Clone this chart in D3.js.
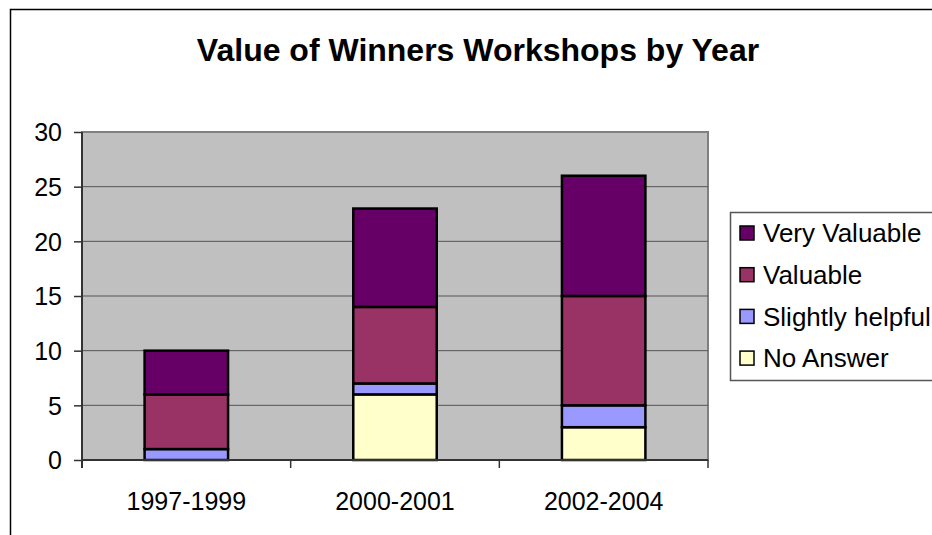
<!DOCTYPE html>
<html>
<head>
<meta charset="utf-8">
<script src="https://cdn.jsdelivr.net/npm/d3@7"></script>
<style>
  body { margin: 0; background: #fff; }
  text { font-family: "Liberation Sans", Arial, sans-serif; fill: #000; }
</style>
</head>
<body>
<div id="vis"></div>
<script>
// data
var years = ['1997-1999', '2000-2001', '2002-2004'];
var seriesNames = ['No Answer', 'Slightly helpful', 'Valuable', 'Very Valuable'];
var noAnswer = [0, 6, 3];
var slightlyHelpful = [1, 1, 2];
var valuable = [5, 7, 10];
var veryValuable = [4, 9, 11];
var yTicks = [0, 5, 10, 15, 20, 25, 30];
var colors = ['#FFFFCC', '#9999FF', '#993366', '#660066'];

var width = 932, height = 535;
var margin = { top: 132, right: 224, bottom: 75, left: 82 };
var drawWidth = width - margin.left - margin.right;
var drawHeight = height - margin.top - margin.bottom;

var svg = d3.select('#vis').append('svg')
    .attr('width', width)
    .attr('height', height);

// outer chart border
svg.append('rect')
    .attr('x', 10.5).attr('y', 9.5)
    .attr('width', 1000).attr('height', 600)
    .attr('fill', '#fff').attr('stroke', '#000').attr('stroke-width', 1.5);

svg.append('text')
    .attr('x', 478).attr('y', 61)
    .attr('text-anchor', 'middle')
    .style('font-size', '32px').style('font-weight', 'bold')
    .text('Value of Winners Workshops by Year');

var table = years.map(function(y, i) {
    return { year: y, 'No Answer': noAnswer[i], 'Slightly helpful': slightlyHelpful[i],
             'Valuable': valuable[i], 'Very Valuable': veryValuable[i] };
});
var stacked = d3.stack().keys(seriesNames)(table);

var xScale = d3.scaleBand().domain(years).range([0, drawWidth]).paddingInner(0.6).paddingOuter(0.3);
var yScale = d3.scaleLinear().domain([0, 30]).range([drawHeight, 0]);
var color = d3.scaleOrdinal().domain(seriesNames).range(colors);

var g = svg.append('g').attr('transform', `translate(${margin.left},${margin.top})`);

g.append('rect')
    .attr('width', drawWidth).attr('height', drawHeight)
    .attr('fill', '#C0C0C0').attr('stroke', '#808080').attr('stroke-width', 2);

// gridlines
g.selectAll('.grid').data(yTicks.slice(1, -1)).enter().append('line')
    .attr('x1', 0).attr('x2', drawWidth)
    .attr('y1', d => yScale(d)).attr('y2', d => yScale(d))
    .attr('stroke', '#555').attr('stroke-width', 1);

// bars
g.selectAll('.series').data(stacked).enter().append('g')
    .attr('fill', d => color(d.key))
    .selectAll('rect').data(d => d.filter(s => s[1] > s[0])).enter().append('rect')
    .attr('x', d => xScale(d.data.year))
    .attr('width', xScale.bandwidth())
    .attr('y', d => yScale(d[1]))
    .attr('height', d => yScale(d[0]) - yScale(d[1]))
    .attr('stroke', '#000').attr('stroke-width', 2.5);

// axes
var yAxis = d3.axisLeft(yScale).tickValues(yTicks).tickSize(8).tickPadding(12);
var yAx = g.append('g').call(yAxis);
yAx.select('.domain').attr('stroke', '#333').attr('stroke-width', 2).attr('d', `M0,${drawHeight + 8}V0`);
yAx.selectAll('.tick line').attr('stroke', '#333').attr('stroke-width', 1.5);
yAx.selectAll('text').style('font-size', '25px').attr('font-family', null).attr('dy', '0.35em');

var xAx = g.append('g').attr('transform', `translate(0,${drawHeight})`)
    .call(d3.axisBottom(xScale).tickSize(0).tickPadding(32));
xAx.select('.domain').attr('stroke', '#333').attr('stroke-width', 2).attr('d', `M0,0H${drawWidth}`);
xAx.selectAll('text').style('font-size', '25px').attr('font-family', null);
// category boundary ticks
xAx.selectAll('.bound').data(d3.range(years.length + 1)).enter().append('line')
    .attr('x1', i => i * drawWidth / years.length).attr('x2', i => i * drawWidth / years.length)
    .attr('y1', 0).attr('y2', 8)
    .attr('stroke', '#333').attr('stroke-width', 1.5);

// legend
var legend = svg.append('g').attr('transform', 'translate(730,212)');
legend.append('rect')
    .attr('x', 0.5).attr('y', 0.5).attr('width', 260).attr('height', 168)
    .attr('fill', '#fff').attr('stroke', '#555').attr('stroke-width', 1.5);
var items = legend.selectAll('.item').data(seriesNames.slice().reverse()).enter().append('g')
    .attr('transform', (d, i) => `translate(10,${21 + i * 41.7})`);
items.append('rect')
    .attr('x', 0).attr('y', -7).attr('width', 14).attr('height', 14)
    .attr('fill', d => color(d)).attr('stroke', '#000').attr('stroke-width', 1.5);
items.append('text')
    .attr('x', 23).attr('dy', '0.36em')
    .style('font-size', '26px')
    .text(d => d);
</script>
</body>
</html>
